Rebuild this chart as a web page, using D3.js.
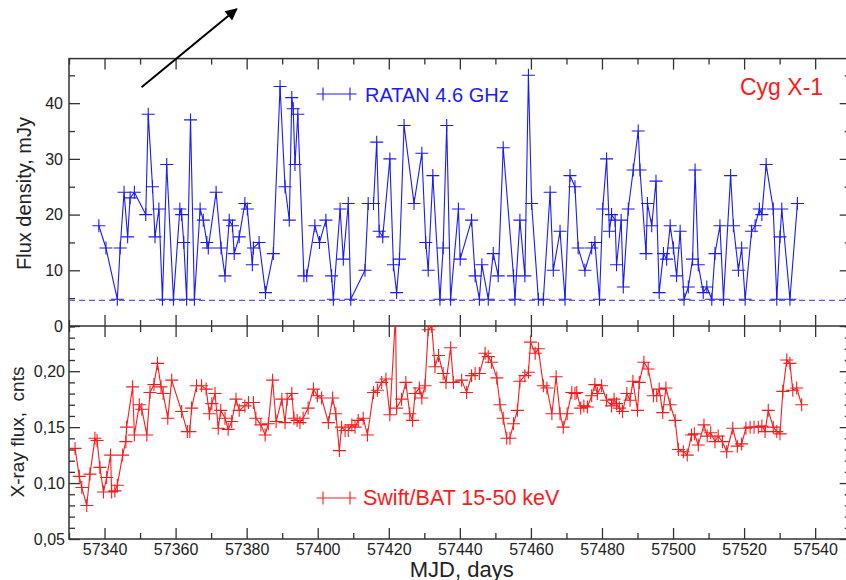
<!DOCTYPE html>
<html>
<head>
<meta charset="utf-8">
<script src="https://cdn.jsdelivr.net/npm/d3@7"></script>
<style>
  body { margin: 0; background: #fff; }
  svg { display: block; font-family: "Liberation Sans", Arial, sans-serif; }
  .tick line { stroke: #333; stroke-width: 1.3; }
  .tick text { fill: #222; font-size: 16px; font-family: "Liberation Sans", Arial, sans-serif; }
</style>
</head>
<body>
<div id="chart"></div>
<script>
// RATAN 4.6 GHz radio flux (mJy), MJD
var ratanDays = [57338.4, 57340.4, 57343.6, 57344.4, 57345.5, 57346.5, 57347.2, 57348.4, 57351.6, 57352.3,
  57353.5, 57354.2, 57355.3, 57356.3, 57357.5, 57359.4, 57361.2, 57361.7, 57362.3, 57363.1,
  57364.2, 57365.3, 57366.9, 57367.8, 57368.8, 57369.2, 57371.4, 57372.8, 57373.9, 57375.1,
  57376.0, 57376.5, 57377.9, 57379.5, 57380.2, 57381.6, 57381.9, 57383.5, 57385.3, 57387.5,
  57389.4, 57390.8, 57392.0, 57392.7, 57393.1, 57393.6, 57394.4, 57396.1, 57396.9, 57399.2,
  57400.5, 57402.3, 57403.9, 57404.4, 57406.3, 57407.2, 57408.6, 57409.3, 57413.3, 57414.2,
  57415.7, 57416.6, 57417.3, 57418.3, 57420.3, 57421.3, 57422.2, 57423.0, 57424.3, 57427.1,
  57429.3, 57430.4, 57431.1, 57432.4, 57434.4, 57435.3, 57436.3, 57437.4, 57439.6, 57440.1,
  57443.3, 57444.3, 57445.5, 57446.2, 57448.0, 57449.4, 57450.8, 57452.2, 57455.1, 57455.5,
  57456.9, 57458.3, 57459.3, 57460.2, 57462.1, 57463.5, 57465.4, 57466.3, 57468.2, 57469.6,
  57471.0, 57472.4, 57473.3, 57475.2, 57477.1, 57478.0, 57479.3, 57480.2, 57481.3, 57482.1,
  57482.7, 57483.7, 57484.1, 57485.4, 57486.0, 57487.4, 57488.8, 57490.2, 57490.7, 57492.4,
  57492.8, 57494.0, 57495.2, 57496.1, 57497.3, 57498.2, 57499.2, 57500.1, 57501.0, 57502.0,
  57503.1, 57504.3, 57505.5, 57506.2, 57507.1, 57508.5, 57509.5, 57510.9, 57511.8, 57513.2,
  57514.2, 57516.2, 57517.0, 57518.4, 57519.3, 57520.3, 57522.1, 57523.1, 57524.3, 57525.0,
  57526.2, 57528.2, 57529.2, 57530.1, 57530.6, 57532.9, 57535.0];
var ratanFlux = [18, 14, 4.8, 14, 24, 16, 23, 24, 20, 38,
  25, 16, 21, 4.8, 29, 4.8, 21, 20, 15, 4.8,
  37, 4.8, 21, 19, 15, 14, 24, 14, 9, 19,
  18, 13, 16, 22, 21, 11, 14, 15, 6, 13,
  43, 25, 19, 41, 39, 29, 38, 9, 9, 18,
  15, 19, 9, 4.8, 21, 12, 22, 4.8, 10, 22,
  22, 33, 17, 16, 30, 11, 6, 12, 36, 22,
  31, 15, 10, 27, 4.8, 14, 36, 4.8, 21, 12,
  19, 9, 4.8, 11, 4.8, 13, 9, 32, 9, 4.8,
  19, 9, 45, 22, 4.8, 4.8, 24, 10, 17, 4.8,
  27, 25, 14, 10, 14, 15, 4.8, 21, 30, 17,
  20, 19, 11, 19, 7, 21, 28, 35, 28, 13,
  22, 18, 26, 6, 13, 12, 18, 14, 9, 17,
  4.8, 7, 12, 28, 11, 6, 7, 4.8, 13, 18,
  4.8, 27, 18, 10, 14, 4.8, 17, 18, 21, 20,
  29, 21, 4.8, 16, 21, 4.8, 22];
var ratanLimit = 4.6; // dashed detection limit, mJy

// Swift/BAT 15-50 keV count rate, MJD
var batDays = [57331.7, 57332.9, 57333.6, 57335.0, 57335.9, 57337.3, 57337.9, 57338.7, 57339.7, 57340.6,
  57341.7, 57342.0, 57342.9, 57343.6, 57345.1, 57346.0, 57346.2, 57347.9, 57348.4, 57349.8,
  57350.5, 57351.9, 57352.8, 57353.9, 57354.9, 57355.9, 57356.5, 57357.8, 57358.9, 57361.7,
  57363.3, 57364.0, 57364.5, 57365.9, 57367.3, 57368.6, 57369.5, 57370.2, 57371.1, 57372.0,
  57372.7, 57373.9, 57374.8, 57375.8, 57377.0, 57377.9, 57379.5, 57380.5, 57381.9, 57382.6,
  57384.0, 57385.2, 57386.1, 57387.3, 57388.3, 57389.9, 57390.8, 57391.4, 57392.7, 57393.3,
  57394.2, 57395.0, 57395.9, 57397.3, 57398.8, 57399.9, 57401.1, 57403.0, 57404.2, 57405.1,
  57406.1, 57406.7, 57407.7, 57408.6, 57409.6, 57410.5, 57411.4, 57412.8, 57414.0, 57415.7,
  57416.8, 57418.0, 57419.2, 57420.3, 57421.9, 57422.2, 57423.6, 57424.8, 57425.9, 57426.7,
  57427.4, 57428.6, 57429.3, 57430.2, 57431.1, 57432.1, 57433.0, 57434.0, 57435.3, 57436.1,
  57437.4, 57438.2, 57440.5, 57441.9, 57443.3, 57444.3, 57445.5, 57447.1, 57448.0, 57448.9,
  57450.4, 57451.3, 57452.2, 57453.2, 57454.1, 57455.1, 57456.2, 57456.9, 57458.3, 57459.3,
  57459.9, 57461.2, 57462.1, 57463.5, 57464.5, 57465.9, 57467.1, 57468.2, 57469.1, 57470.2,
  57471.5, 57472.4, 57472.9, 57474.0, 57474.9, 57475.9, 57477.1, 57478.0, 57478.7, 57479.9,
  57481.3, 57482.7, 57483.4, 57484.1, 57484.9, 57485.8, 57487.0, 57487.9, 57488.7, 57490.0,
  57490.5, 57491.8, 57493.0, 57494.5, 57495.4, 57496.1, 57497.1, 57498.0, 57499.2, 57500.6,
  57501.5, 57502.9, 57504.0, 57505.2, 57506.0, 57507.1, 57508.7, 57509.6, 57510.6, 57511.8,
  57512.7, 57513.9, 57515.1, 57516.8, 57518.1, 57519.3, 57520.5, 57521.7, 57522.8, 57524.0,
  57525.0, 57525.9, 57526.8, 57528.2, 57529.2, 57530.1, 57530.9, 57532.0, 57532.9, 57533.7,
  57534.8, 57536.2];
var batFlux = [0.131, 0.106, 0.096, 0.080, 0.108, 0.140, 0.138, 0.114, 0.092, 0.105,
  0.125, 0.092, 0.093, 0.098, 0.125, 0.137, 0.150, 0.186, 0.143, 0.170,
  0.166, 0.143, 0.181, 0.188, 0.207, 0.186, 0.180, 0.158, 0.192, 0.164,
  0.146, 0.146, 0.167, 0.187, 0.187, 0.184, 0.162, 0.171, 0.180, 0.149,
  0.165, 0.158, 0.148, 0.155, 0.175, 0.165, 0.169, 0.172, 0.172, 0.158,
  0.152, 0.143, 0.153, 0.192, 0.155, 0.175, 0.154, 0.175, 0.180, 0.158,
  0.156, 0.154, 0.158, 0.167, 0.184, 0.178, 0.176, 0.154, 0.176, 0.162,
  0.129, 0.150, 0.147, 0.147, 0.152, 0.150, 0.156, 0.158, 0.143, 0.181,
  0.183, 0.190, 0.193, 0.161, 0.250, 0.167, 0.175, 0.190, 0.162, 0.156,
  0.180, 0.185, 0.176, 0.187, 0.237, 0.240, 0.204, 0.214, 0.198, 0.190,
  0.221, 0.190, 0.192, 0.181, 0.196, 0.198, 0.198, 0.216, 0.213, 0.208,
  0.194, 0.170, 0.158, 0.140, 0.140, 0.153, 0.165, 0.191, 0.196, 0.199,
  0.226, 0.216, 0.220, 0.187, 0.185, 0.162, 0.195, 0.162, 0.150, 0.162,
  0.181, 0.180, 0.181, 0.167, 0.169, 0.168, 0.178, 0.188, 0.180, 0.187,
  0.174, 0.169, 0.175, 0.171, 0.167, 0.164, 0.180, 0.174, 0.191, 0.165,
  0.190, 0.208, 0.202, 0.178, 0.178, 0.184, 0.163, 0.185, 0.170, 0.156,
  0.130, 0.128, 0.125, 0.143, 0.144, 0.134, 0.152, 0.142, 0.145, 0.137,
  0.142, 0.137, 0.128, 0.149, 0.133, 0.135, 0.149, 0.150, 0.150, 0.150,
  0.151, 0.146, 0.165, 0.150, 0.146, 0.144, 0.182, 0.210, 0.207, 0.183,
  0.185, 0.170];

// tick values
var xMajor = [57340, 57360, 57380, 57400, 57420, 57440, 57460, 57480, 57500, 57520, 57540];
var xMinor = [57330, 57350, 57370, 57390, 57410, 57430, 57450, 57470, 57490, 57510, 57530, 57550];
var topMajor = [0, 10, 20, 30, 40];
var topMinor = [5, 15, 25, 35, 45];
var botMajor = [0.05, 0.10, 0.15, 0.20];
var botMinor = [0.06, 0.07, 0.08, 0.09, 0.11, 0.12, 0.13, 0.14, 0.16, 0.17, 0.18, 0.19, 0.21, 0.22, 0.23, 0.24];

var width = 846, height = 580;
// frame edges (note: "top" is reserved on window, so use other names)
var plotLeft = 69, plotRight = 850.7, plotTop = 58.6, plotMid = 326, plotBottom = 539;

var svg = d3.select("#chart").append("svg")
  .attr("width", width)
  .attr("height", height);

svg.append("rect").attr("width", width).attr("height", height).attr("fill", "#fff");

// scales
var x = d3.scaleLinear().domain([57330, 57550]).range([plotLeft, plotRight]);
var yTop = d3.scaleLinear().domain([0, 48]).range([plotMid, plotTop]);
var yBot = d3.scaleLinear().domain([0.05, 0.2404]).range([plotBottom, plotMid]);

// clip paths for the two panels
var defs = svg.append("defs");
defs.append("clipPath").attr("id", "clipTop")
  .append("rect").attr("x", plotLeft).attr("y", plotTop)
  .attr("width", plotRight - plotLeft).attr("height", plotMid - plotTop);
defs.append("clipPath").attr("id", "clipBot")
  .append("rect").attr("x", plotLeft).attr("y", plotMid)
  .attr("width", plotRight - plotLeft).attr("height", plotBottom - plotMid);

//axes helper, no domain path (frame drawn separately)
function addAxis(axis, tx, ty) {
  var g = svg.append("g")
    .attr("transform", "translate(" + tx + "," + ty + ")")
    .call(axis);
  g.select(".domain").remove();
  return g;
}

// x ticks: top frame, middle line (both ways), bottom
addAxis(d3.axisTop(x).tickValues(xMajor).tickSize(-11).tickFormat(""), 0, plotTop);
addAxis(d3.axisTop(x).tickValues(xMinor).tickSize(-6).tickFormat(""), 0, plotTop);
addAxis(d3.axisTop(x).tickValues(xMajor).tickSize(11).tickFormat(""), 0, plotMid);
addAxis(d3.axisTop(x).tickValues(xMinor).tickSize(6).tickFormat(""), 0, plotMid);
addAxis(d3.axisBottom(x).tickValues(xMajor).tickSize(11).tickFormat(""), 0, plotMid);
addAxis(d3.axisBottom(x).tickValues(xMinor).tickSize(6).tickFormat(""), 0, plotMid);
addAxis(d3.axisBottom(x).tickValues(xMajor).tickSizeInner(-11).tickPadding(5).tickFormat(d3.format("d")), 0, plotBottom);
addAxis(d3.axisBottom(x).tickValues(xMinor).tickSize(-6).tickFormat(""), 0, plotBottom);

// y ticks, top panel
addAxis(d3.axisLeft(yTop).tickValues(topMajor).tickSizeInner(-11).tickPadding(6).tickFormat(d3.format("d")), plotLeft, 0);
addAxis(d3.axisLeft(yTop).tickValues(topMinor).tickSize(-6).tickFormat(""), plotLeft, 0);
addAxis(d3.axisRight(yTop).tickValues(topMajor).tickSize(-11).tickFormat(""), plotRight, 0);
addAxis(d3.axisRight(yTop).tickValues(topMinor).tickSize(-6).tickFormat(""), plotRight, 0);

// y ticks, bottom panel (comma decimals)
var commaFmt = function(d) { return d3.format(".2f")(d).replace(".", ","); };
addAxis(d3.axisLeft(yBot).tickValues(botMajor).tickSizeInner(-11).tickPadding(4).tickFormat(commaFmt), plotLeft, 0);
addAxis(d3.axisLeft(yBot).tickValues(botMinor).tickSize(-6).tickFormat(""), plotLeft, 0);
addAxis(d3.axisRight(yBot).tickValues(botMajor).tickSize(-11).tickFormat(""), plotRight, 0);
addAxis(d3.axisRight(yBot).tickValues(botMinor).tickSize(-6).tickFormat(""), plotRight, 0);

// frame
svg.append("rect")
  .attr("x", plotLeft).attr("y", plotTop)
  .attr("width", plotRight - plotLeft).attr("height", plotBottom - plotTop)
  .attr("fill", "none").attr("stroke", "#333").attr("stroke-width", 1.5);
svg.append("line")
  .attr("x1", plotLeft).attr("x2", plotRight).attr("y1", plotMid).attr("y2", plotMid)
  .attr("stroke", "#333").attr("stroke-width", 1.5);

// cross marker path
function cross(cx, cy, s) {
  return "M" + (cx - s) + "," + cy + "H" + (cx + s) + "M" + cx + "," + (cy - s) + "V" + (cy + s);
}

// top panel: RATAN
var ratan = ratanDays.map(function(d, i) { return { day: d, v: ratanFlux[i] }; });
var gTop = svg.append("g").attr("clip-path", "url(#clipTop)");

gTop.append("line")
  .attr("x1", plotLeft).attr("x2", plotRight)
  .attr("y1", yTop(ratanLimit)).attr("y2", yTop(ratanLimit))
  .attr("stroke", "#5a5aff").attr("stroke-width", 1.3)
  .attr("stroke-dasharray", "6,4");

var lineTop = d3.line().x(function(d) { return x(d.day); }).y(function(d) { return yTop(d.v); });
gTop.append("path")
  .datum(ratan)
  .attr("d", lineTop)
  .attr("fill", "none").attr("stroke", "#1a1aff").attr("stroke-width", 1.1);
gTop.append("path")
  .attr("d", ratan.map(function(d) { return cross(x(d.day), yTop(d.v), 6.5); }).join(""))
  .attr("fill", "none").attr("stroke", "#1a1aff").attr("stroke-width", 1.1);

// bottom panel: Swift/BAT
var bat = batDays.map(function(d, i) { return { day: d, v: batFlux[i] }; });
var gBot = svg.append("g").attr("clip-path", "url(#clipBot)");
var lineBot = d3.line().x(function(d) { return x(d.day); }).y(function(d) { return yBot(d.v); });
gBot.append("path")
  .datum(bat)
  .attr("d", lineBot)
  .attr("fill", "none").attr("stroke", "#ff1a1a").attr("stroke-width", 1.1);
gBot.append("path")
  .attr("d", bat.map(function(d) { return cross(x(d.day), yBot(d.v), 6.5); }).join(""))
  .attr("fill", "none").attr("stroke", "#ff1a1a").attr("stroke-width", 1.1);

// legends
function legend(y0, color, label, tx, ty, size) {
  svg.append("path")
    .attr("d", "M323," + y0 + "H350" + cross(323, y0, 6.5) + cross(350, y0, 6.5))
    .attr("fill", "none").attr("stroke", color).attr("stroke-width", 1.1);
  svg.append("text")
    .attr("x", tx).attr("y", ty)
    .attr("fill", color).style("font-size", size + "px")
    .text(label);
}
legend(94, "#1a1aff", "RATAN 4.6 GHz", 365, 101.5, 20);
legend(498, "#ff1a1a", "Swift/BAT 15-50 keV", 363, 505, 21.5);

svg.append("text")
  .attr("x", 740).attr("y", 95)
  .attr("fill", "#ff1a1a").style("font-size", "23px")
  .text("Cyg X-1");

// axis titles
svg.append("text")
  .attr("transform", "translate(31,193.5) rotate(-90)")
  .attr("text-anchor", "middle").attr("fill", "#222")
  .style("font-size", "20px")
  .text("Flux density, mJy");
svg.append("text")
  .attr("transform", "translate(24,432) rotate(-90)")
  .attr("text-anchor", "middle").attr("fill", "#222")
  .style("font-size", "19px").style("white-space", "pre")
  .text("X-ray flux,  cnts");
svg.append("text")
  .attr("x", 461.7).attr("y", 577)
  .attr("text-anchor", "middle").attr("fill", "#222")
  .style("font-size", "22px")
  .text("MJD, days");

// annotation arrow
defs.append("marker")
  .attr("id", "head")
  .attr("viewBox", "0 0 10 10")
  .attr("refX", 9).attr("refY", 5)
  .attr("markerWidth", 17).attr("markerHeight", 12)
  .attr("markerUnits", "userSpaceOnUse")
  .attr("orient", "auto")
  .append("path").attr("d", "M0,0L10,5L0,10Z").attr("fill", "#000");
svg.append("line")
  .attr("x1", 141.5).attr("y1", 87.3)
  .attr("x2", 236.7).attr("y2", 9)
  .attr("stroke", "#000").attr("stroke-width", 2)
  .attr("marker-end", "url(#head)");
</script>
</body>
</html>
